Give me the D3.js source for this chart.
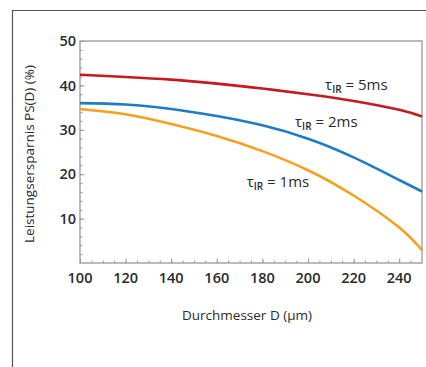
<!DOCTYPE html>
<html>
<head>
<meta charset="utf-8">
<script src="https://cdn.jsdelivr.net/npm/d3@7"></script>
<style>
  body { margin: 0; background: #fff; }
  text { font-family: "Open Sans", "DejaVu Sans", sans-serif; fill: #2a2a2a; }
</style>
</head>
<body>
<div id="chart"></div>
<script>
// diameter D (µm)
var diameters = [100, 120, 140, 160, 180, 200, 220, 240, 250];

// Leistungsersparnis PS(D) in % per tau_IR
var ps5ms = [42.4, 41.9, 41.3, 40.4, 39.3, 38.0, 36.5, 34.5, 33.0];
var ps2ms = [36.0, 35.7, 34.7, 33.1, 31.0, 28.0, 23.8, 18.7, 16.1];
var ps1ms = [34.7, 33.5, 31.3, 28.6, 25.2, 20.9, 15.2, 8.0, 2.9];

var seriesNames = ["5ms", "2ms", "1ms"];
var xTicks = [100, 120, 140, 160, 180, 200, 220, 240];
var yTicks = [10, 20, 30, 40, 50];

var width = 426;
var height = 367;
var margin = { top: 41, left: 80, right: 4, bottom: 104 };
var plotWidth = width - margin.left - margin.right;
var plotHeight = height - margin.top - margin.bottom;

var svg = d3.select("#chart")
  .append("svg")
  .attr("width", width)
  .attr("height", height);

// outer frame (only top and left edges are visible)
svg.append("path")
  .attr("d", "M12.5," + height + "V10.5H" + width)
  .attr("fill", "none")
  .attr("stroke", "#555")
  .attr("stroke-width", 1.2);

var g = svg.append("g")
  .attr("transform", "translate(" + margin.left + "," + margin.top + ")");

var x = d3.scaleLinear().domain([100, 250]).range([0, plotWidth]);
var y = d3.scaleLinear().domain([0, 50]).range([plotHeight, 0]);

// plot border
g.append("rect")
  .attr("x", 0)
  .attr("y", 0)
  .attr("width", plotWidth)
  .attr("height", plotHeight)
  .attr("fill", "none")
  .attr("stroke", "#999")
  .attr("stroke-width", 1.3);

// minor ticks (pointing inward)
g.append("g")
  .attr("transform", "translate(0," + plotHeight + ")")
  .call(d3.axisTop(x).tickValues(d3.range(105, 250, 5)).tickSize(2.5).tickFormat(""))
  .call(function(a) { a.select(".domain").remove(); a.selectAll("line").attr("stroke", "#999"); });

g.append("g")
  .call(d3.axisRight(y).tickValues(d3.range(2, 50, 2)).tickSize(2.5).tickFormat(""))
  .call(function(a) { a.select(".domain").remove(); a.selectAll("line").attr("stroke", "#999"); });

// major ticks + labels
var xAxis = g.append("g")
  .attr("transform", "translate(0," + plotHeight + ")")
  .call(d3.axisTop(x).tickValues(xTicks).tickSize(4.5).tickFormat(""));
xAxis.select(".domain").remove();
xAxis.selectAll("line").attr("stroke", "#999");

g.append("g").selectAll("text")
  .data(xTicks)
  .enter()
  .append("text")
  .attr("x", function(d) { return x(d); })
  .attr("y", plotHeight + 20)
  .attr("text-anchor", "middle")
  .style("font-size", "14.5px")
  .style("font-weight", "600")
  .text(function(d) { return d; });

var yAxis = g.append("g")
  .call(d3.axisRight(y).tickValues(yTicks).tickSize(4.5).tickFormat(""));
yAxis.select(".domain").remove();
yAxis.selectAll("line").attr("stroke", "#999");

g.append("g").selectAll("text")
  .data(yTicks)
  .enter()
  .append("text")
  .attr("x", -4)
  .attr("y", function(d) { return y(d); })
  .attr("dy", "0.36em")
  .attr("text-anchor", "end")
  .style("font-size", "14.5px")
  .style("font-weight", "600")
  .text(function(d) { return d; });

// curves
var colors = ["#c41a22", "#1f7bc4", "#f6a01f"];
var allSeries = [ps5ms, ps2ms, ps1ms];

var line = d3.line()
  .x(function(d, i) { return x(diameters[i]); })
  .y(function(d) { return y(d); })
  .curve(d3.curveNatural);

allSeries.forEach(function(s, k) {
  g.append("path")
    .datum(s)
    .attr("fill", "none")
    .attr("stroke", colors[k])
    .attr("stroke-width", 2.6)
    .attr("d", line);
});

// curve labels, anchored in data units
var labelAnchors = [[207.5, 38.9], [194.3, 30.6], [173.1, 17.1]];
seriesNames.forEach(function(name, k) {
  var t = g.append("text")
    .attr("x", x(labelAnchors[k][0]))
    .attr("y", y(labelAnchors[k][1]))
    .style("font-size", "15px");
  t.append("tspan").text("\u03c4");
  t.append("tspan").attr("dy", 3).style("font-size", "10px").style("font-weight", "600").text("IR");
  t.append("tspan").attr("dy", -3).text(" = " + name);
});

// axis titles
svg.append("text")
  .attr("x", margin.left + plotWidth / 2 - 4)
  .attr("y", 320)
  .attr("text-anchor", "middle")
  .style("font-size", "13.5px")
  .text("Durchmesser D (\u00b5m)");

svg.append("text")
  .attr("transform", "translate(34," + (margin.top + plotHeight / 2 + 2) + ") rotate(-90)")
  .attr("text-anchor", "middle")
  .style("font-size", "13.5px")
  .text("Leistungsersparnis PS(D) (%)");
</script>
</body>
</html>
